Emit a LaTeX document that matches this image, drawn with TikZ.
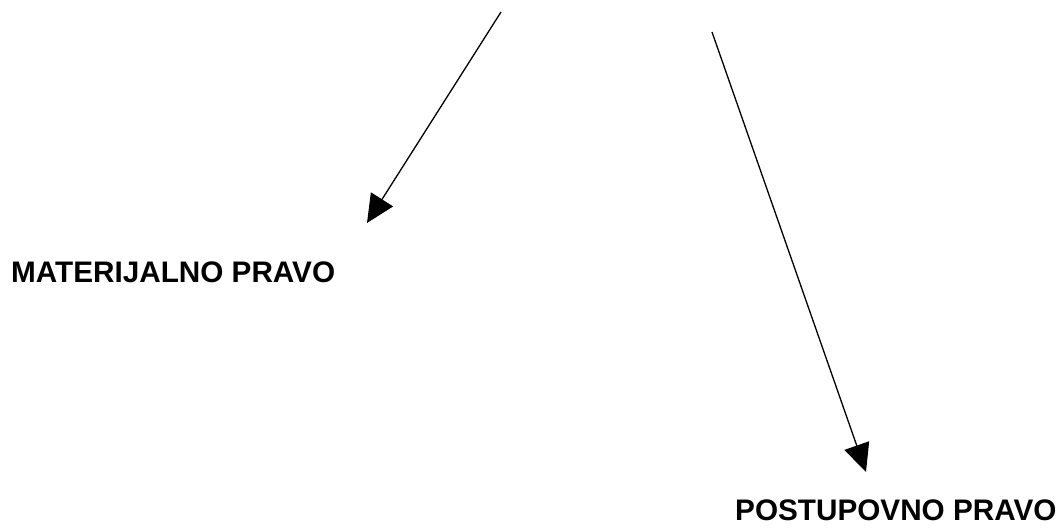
\documentclass[tikz,border=0pt]{standalone}
\usepackage{fontspec}
\setmainfont{Liberation Sans}
\usetikzlibrary{arrows.meta}
\begin{document}
\begin{tikzpicture}[x=1pt,y=-1pt,
  lbl/.style={anchor=base west,inner sep=0pt,font=\fontsize{29.7}{34}\selectfont\bfseries},
  conn/.style={line width=1.3pt,-{Triangle[length=28pt,width=26pt]}}]
\useasboundingbox[fill=white] (0,0) rectangle (1058,529);
\coordinate (s1) at (501,12);
\coordinate (e1) at (367,223);
\coordinate (s2) at (712,32);
\coordinate (e2) at (866,472);
\node[lbl] (mat) at (11,283) {MATERIJALNO PRAVO};
\node[lbl] (pos) at (735,520) {POSTUPOVNO PRAVO};
\draw[conn] (s1) -- (e1);
\draw[conn] (s2) -- (e2);
\end{tikzpicture}
\end{document}
